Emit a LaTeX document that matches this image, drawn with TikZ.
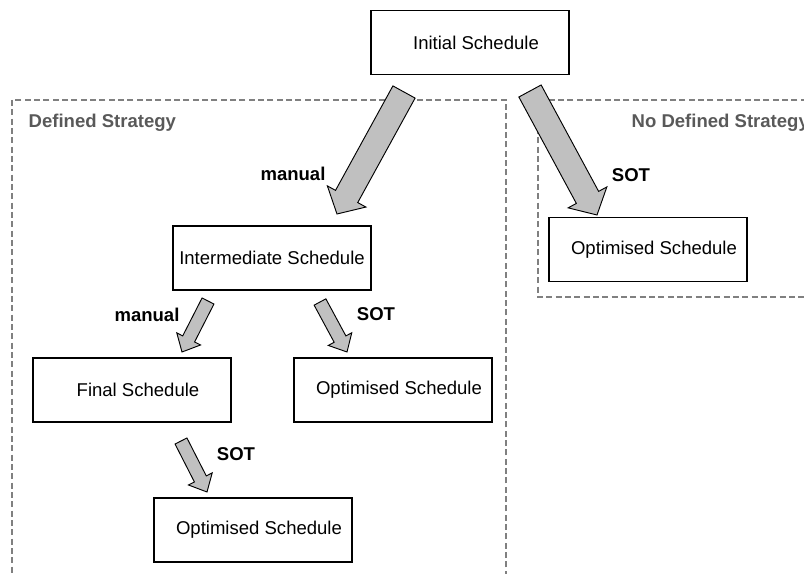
\documentclass[tikz,border=0pt]{standalone}
\usepackage{fontspec}
\setmainfont{Liberation Sans}
\usetikzlibrary{calc}
\definecolor{regiongray}{HTML}{808080}
\definecolor{titlegray}{HTML}{595959}
\definecolor{arrowgray}{HTML}{C0C0C0}
\def\fatarrow[#1](#2)(#3)(#4:#5:#6){\coordinate (fa-h) at ($(#3)!#6!(#2)$); \draw[#1] ($(#2)!#4!90:(#3)$) -- ($(fa-h)!#4!90:(#3)$) -- ($(fa-h)!#5!90:(#3)$) -- (#3) -- ($(fa-h)!#5!-90:(#3)$) -- ($(fa-h)!#4!-90:(#3)$) -- ($(#2)!#4!-90:(#3)$) -- cycle;}
\tikzset{
  schedbox/.style={draw, line width=0.95pt, minimum width=148.5pt, minimum height=48pt, inner sep=0pt, font=\fontsize{13.9}{16}\selectfont, execute at begin node={\hspace*{#1}}},
  schedbox/.default=9pt,
  region/.style={draw=regiongray, line width=1.1pt, dash pattern=on 4.5pt off 2.5pt},
  regiontitle/.style={anchor=west, text=titlegray, font=\fontsize{13.9}{16}\selectfont\bfseries},
  arrowlabel/.style={font=\fontsize{13.9}{16}\selectfont\bfseries},
  blockarrow/.style={fill=arrowgray, draw=black, line width=0.7pt, line join=miter}
}
\begin{document}
\begin{tikzpicture}[x=0.75pt, y=-0.75pt]
			%%%%% START %%%%%
			\useasboundingbox (0,0) rectangle (804,574);
			
			\draw[region] (12, 100) rectangle (506, 600);
			\draw[region] (538, 100) rectangle (830, 297);
			\node[regiontitle] (deftitle) at (24, 123) {Defined Strategy};
			\node[regiontitle] (nodeftitle) at (627, 123) {No Defined Strategy};
			
			\node[schedbox] (initial) at (470, 42.5) {Initial Schedule};
			\node[schedbox=0pt] (inter) at (272, 258) {Intermediate Schedule};
			\node[schedbox] (final) at (132, 390) {Final Schedule};
			\node[schedbox] (optmid) at (393, 390) {Optimised Schedule};
			\node[schedbox] (optlow) at (253, 530) {Optimised Schedule};
			\node[schedbox] (optright) at (648, 249.5) {Optimised Schedule};
			
			\coordinate (man1s) at (404, 92);
			\coordinate (man1e) at (337, 214);
			\coordinate (sot1s) at (530, 91);
			\coordinate (sot1e) at (597, 215);
			\coordinate (man2s) at (208, 301);
			\coordinate (man2e) at (182, 352);
			\coordinate (sot2s) at (320, 302);
			\coordinate (sot2e) at (347, 352);
			\coordinate (sot3s) at (181, 441);
			\coordinate (sot3e) at (207, 492);
			
			\fatarrow[blockarrow](man1s)(man1e)(9.5pt:16.5pt:15pt)
			\fatarrow[blockarrow](sot1s)(sot1e)(9.5pt:16.5pt:15pt)
			\fatarrow[blockarrow](man2s)(man2e)(5pt:10pt:11pt)
			\fatarrow[blockarrow](sot2s)(sot2e)(5pt:10pt:11pt)
			\fatarrow[blockarrow](sot3s)(sot3e)(5pt:10pt:11pt)
			
			\node[arrowlabel] (man1lbl) at (293, 174) {manual};
			\node[arrowlabel] (sot1lbl) at (631, 175) {SOT};
			\node[arrowlabel] (man2lbl) at (147, 315) {manual};
			\node[arrowlabel] (sot2lbl) at (376, 314) {SOT};
			\node[arrowlabel] (sot3lbl) at (236, 454) {SOT};
			
			%%%%% END %%%%%
\end{tikzpicture}
\end{document}
